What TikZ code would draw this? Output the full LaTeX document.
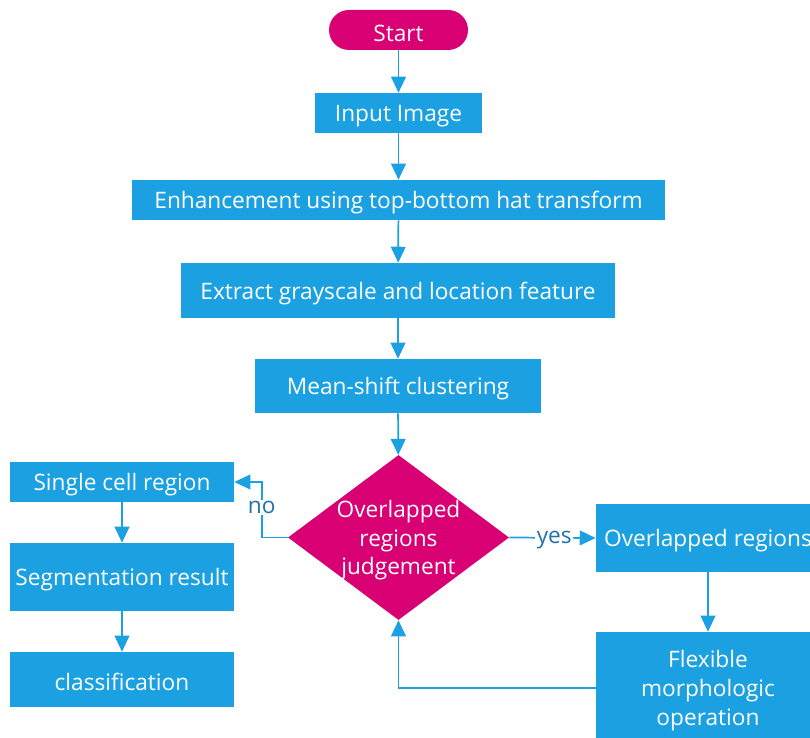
\documentclass[tikz,border=0pt]{standalone}
\usepackage{fontspec}
\setmainfont{Open Sans}
\usetikzlibrary{arrows.meta,shapes.geometric}
\definecolor{boxblue}{HTML}{1BA1E2}
\definecolor{lineblue}{HTML}{1BA1E2}
\definecolor{decide}{HTML}{D80073}
\definecolor{lblblue}{HTML}{1F72AC}
\tikzset{
  px/.style={x=0.75pt,y=-0.75pt},
  box/.style 2 args={rectangle,fill=boxblue,text=white,inner sep=0pt,align=center,
    minimum width=#1*0.75pt,minimum height=#2*0.75pt},
  terminal/.style 2 args={rectangle,rounded corners=15pt,fill=decide,text=white,inner sep=0pt,
    minimum width=#1*0.75pt,minimum height=#2*0.75pt},
  % one-line captions: fixed height keeps the glyphs optically centred
  oneline/.style={text height=17.4pt},
  % stacked captions: trim the last line's descender
  multiline/.style={text depth=-0.5pt},
  conn/.style={draw=lineblue,line width=1.3pt,-{Triangle[length=12pt,width=11pt]}},
  lbl/.style={fill=white,text=lblblue,inner sep=1pt,text depth=0pt},
  every node/.style={font=\fontsize{17}{21.5}\selectfont}
}
\begin{document}
\begin{tikzpicture}[px]
\useasboundingbox (0,0) rectangle (810,738);
% main column
\node[terminal={139}{40},oneline] (start) at (398.5,30) {Start};
\node[box={167}{40},oneline] (input) at (398.5,113) {Input Image};
\node[box={533}{40},oneline] (enh) at (398.5,200) {Enhancement using top-bottom hat transform};
\node[box={434}{55},oneline] (extract) at (398,290.5) {Extract grayscale and location feature};
\node[box={286}{54},oneline] (mean) at (398,386) {Mean-shift clustering};
% decision
\node[diamond,fill=decide,inner sep=0pt,minimum width=221*0.75pt,minimum height=165*0.75pt] (judge) at (398.5,537.5) {};
\node[text=white,align=center,inner sep=0pt,multiline] (judgetext) at (judge.center) {Overlapped\\regions\\judgement};
% left branch
\node[box={224}{40},oneline] (single) at (122,482) {Single cell region};
\node[box={224}{68},oneline] (seg) at (122,577) {Segmentation result};
\node[box={224}{55},oneline] (cls) at (122,679.5) {classification};
% right branch
\node[box={224}{68},oneline] (over) at (708,538) {Overlapped regions};
\node[box={224}{112},multiline] (flex) at (708,688) {Flexible\\morphologic\\operation};
% connectors
\draw[conn] (start) -- (input);
\draw[conn] (input) -- (enh);
\draw[conn] (enh) -- (extract);
\draw[conn] (extract) -- (mean);
\draw[conn] (mean) -- (judge);
\draw[conn] (judge.west) -- ++(-26,0) |- node[lbl,pos=0.27] {no} (single.east);
\draw[conn] (single) -- (seg);
\draw[conn] (seg) -- (cls);
\draw[conn] (judge.east) -- node[lbl,pos=0.52] {yes} (over.west);
\draw[conn] (over) -- (flex);
\draw[conn] (flex.west) -| (judge.south);
\end{tikzpicture}
\end{document}
